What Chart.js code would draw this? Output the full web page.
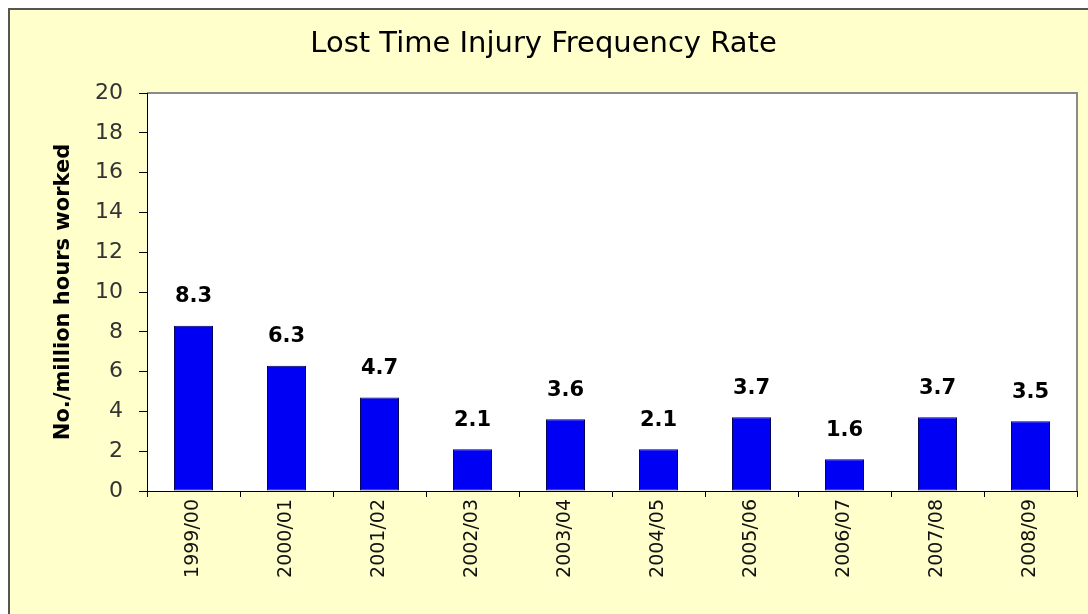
<!DOCTYPE html>
<html>
<head>
<meta charset="utf-8">
<script src="https://cdn.jsdelivr.net/npm/chart.js@4"></script>
<style>
    body { margin: 0; background: #ffffff; overflow: hidden; }
    #frame {
        position: absolute; left: 8px; top: 8px;
        width: 1078px; height: 604px;
        border-left: 2px solid #555; border-top: 2px solid #555;
        background: #ffffcc;
    }
    #wrap { position: absolute; left: 0; top: 0; width: 1078px; height: 604px; }
</style>
</head>
<body>
<div id="frame"><div id="wrap"><canvas id="ltifr"></canvas></div></div>
<script>
const years = ['1999/00', '2000/01', '2001/02', '2002/03', '2003/04', '2004/05', '2005/06', '2006/07', '2007/08', '2008/09'];
const rates = [8.3, 6.3, 4.7, 2.1, 3.6, 2.1, 3.7, 1.6, 3.7, 3.5];
const yTicks = [0, 2, 4, 6, 8, 10, 12, 14, 16, 18, 20];

// white plot area with grey top/right edge
const plotBox = {
    id: 'plotBox',
    beforeDraw(chart) {
        const { ctx, chartArea: a } = chart;
        ctx.save();
        ctx.fillStyle = '#ffffff';
        ctx.fillRect(a.left, a.top, a.right - a.left, a.bottom - a.top);
        ctx.strokeStyle = '#8a8a8a';
        ctx.lineWidth = 2;
        ctx.beginPath();
        ctx.moveTo(a.left, a.top);
        ctx.lineTo(a.right, a.top);
        ctx.lineTo(a.right, a.bottom);
        ctx.stroke();
        ctx.restore();
    }
};

// value labels above each bar
const barValues = {
    id: 'barValues',
    afterDatasetsDraw(chart) {
        const { ctx } = chart;
        const meta = chart.getDatasetMeta(0);
        ctx.save();
        ctx.font = 'bold 21px "DejaVu Sans"';
        ctx.fillStyle = '#000';
        ctx.textAlign = 'center';
        ctx.textBaseline = 'middle';
        meta.data.forEach((bar, i) => {
            ctx.fillText(rates[i].toFixed(1), bar.x, bar.y - 29);
        });
        ctx.restore();
    }
};

new Chart(document.getElementById('ltifr'), {
    type: 'bar',
    data: {
        labels: years,
        datasets: [{
            data: rates,
            backgroundColor: '#0000f5',
            borderColor: '#000050',
            borderWidth: 1,
            borderSkipped: false,
            barPercentage: 0.42,
            categoryPercentage: 1
        }]
    },
    options: {
        responsive: true,
        maintainAspectRatio: false,
        animation: false,
        layout: { padding: { left: 0, right: 11, top: 0, bottom: 0 } },
        plugins: {
            legend: { display: false },
            tooltip: { enabled: false },
            title: {
                display: true,
                text: 'Lost Time Injury Frequency Rate',
                color: '#000',
                font: { family: 'DejaVu Sans', size: 29, weight: 'normal' },
                padding: { top: 17, bottom: 31.2 }
            }
        },
        scales: {
            x: {
                grid: { drawOnChartArea: false, offset: true, tickLength: 6, color: '#000' },
                border: { color: '#000', width: 1 },
                ticks: {
                    minRotation: 90, maxRotation: 90, padding: 2,
                    color: '#111',
                    font: { family: 'DejaVu Sans', size: 19 }
                },
                afterFit(scale) { scale.height = 123; }
            },
            y: {
                min: 0, max: 20,
                afterBuildTicks(scale) { scale.ticks = yTicks.map(v => ({ value: v })); },
                grid: { drawOnChartArea: false, tickLength: 8, color: '#000' },
                border: { color: '#000', width: 1 },
                ticks: {
                    padding: 16,
                    color: '#333',
                    font: { family: 'DejaVu Sans', size: 22 }
                },
                title: {
                    display: true,
                    text: 'No./million hours worked',
                    color: '#000',
                    font: { family: 'DejaVu Sans', size: 21, weight: 'bold' },
                    padding: { top: 41, bottom: 0 }
                },
                afterFit(scale) { scale.width = 137; }
            }
        }
    },
    plugins: [plotBox, barValues]
});
</script>
</body>
</html>
